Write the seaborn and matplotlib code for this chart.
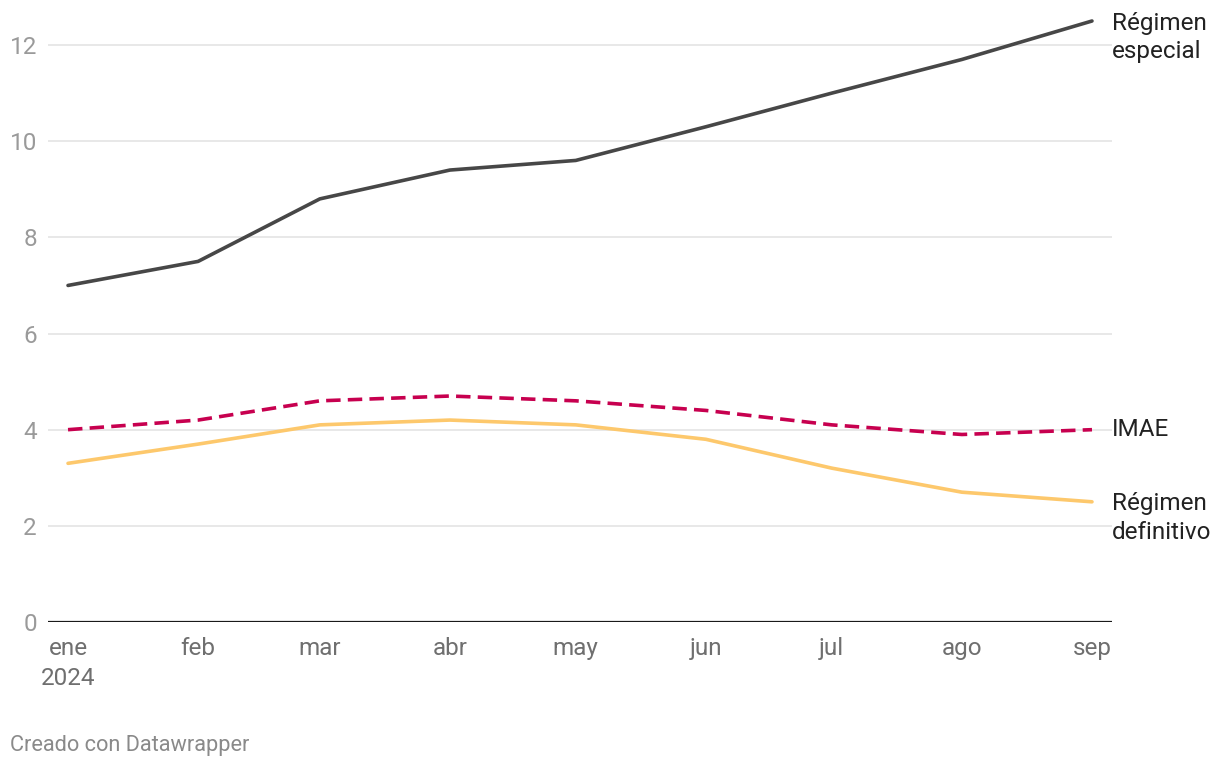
import matplotlib
matplotlib.use("Agg")
import matplotlib.pyplot as plt
import numpy as np
import pandas as pd
import seaborn as sns

# data
months = pd.date_range("2024-01-01", "2024-09-01", freq="MS")
month_labels = ["ene\n2024", "feb", "mar", "abr", "may", "jun", "jul", "ago", "sep"]
especial = [7.0, 7.5, 8.8, 9.4, 9.6, 10.3, 11.0, 11.7, 12.5]
imae = [4.0, 4.2, 4.6, 4.7, 4.6, 4.4, 4.1, 3.9, 4.0]
definitivo = [3.3, 3.7, 4.1, 4.2, 4.1, 3.8, 3.2, 2.7, 2.5]
y_ticks = [0, 2, 4, 6, 8, 10, 12]

sns.set_style("white")
plt.rcParams["font.family"] = ["Roboto", "DejaVu Sans"]

fig = plt.figure(figsize=(12.2, 7.68), dpi=100)
ax = fig.add_axes([48 / 1220, 146 / 768, (1112 - 48) / 1220, (622 - 21) / 768])

df = pd.DataFrame({"fecha": months, "especial": especial, "imae": imae, "definitivo": definitivo})

# gridlines first so lines sit on top
for t in y_ticks[1:]:
    ax.axhline(t, color="#e2e2e2", lw=1.1, zorder=0)
ax.axhline(0, color="#1a1a1a", lw=1.6, zorder=1)

sns.lineplot(data=df, x="fecha", y="definitivo", color="#fdc86c", lw=2.6, ax=ax, clip_on=False)
sns.lineplot(data=df, x="fecha", y="imae", color="#c7004f", lw=2.6, ax=ax, clip_on=False)
ax.lines[-1].set_dashes([4.0, 2.0])
sns.lineplot(data=df, x="fecha", y="especial", color="#474747", lw=2.6, ax=ax, clip_on=False)

pad = pd.Timedelta(days=4.77)
ax.set_xlim(months[0] - pad, months[-1] + pad)
ax.set_ylim(0, 12.5)

ax.set_yticks(y_ticks)
ax.set_yticklabels([str(t) for t in y_ticks], color="#9a9a9a", fontsize=17.5)
ax.set_xticks(months)
ax.set_xticklabels(month_labels, color="#6f6f6f", fontsize=17.5, linespacing=1.4)
ax.tick_params(axis="both", length=0)
ax.tick_params(axis="y", pad=8)
ax.tick_params(axis="x", pad=11)
ax.set_xlabel("")
ax.set_ylabel("")
sns.despine(ax=ax, left=True, bottom=True)

# end labels
ends = [("Régimen", "especial", especial[-1]), ("IMAE", None, imae[-1]), ("Régimen", "definitivo", definitivo[-1])]
for first, second, val in ends:
    dy = -1.5 if second else 0
    ax.annotate(first, xy=(months[-1], val), xytext=(14.4, dy), textcoords="offset points",
                ha="left", va="center", fontsize=17.5, color="#222222", annotation_clip=False)
    if second:
        ax.annotate(second, xy=(months[-1], val), xytext=(14.4, dy - 20.5), textcoords="offset points",
                    ha="left", va="center", fontsize=17.5, color="#222222", annotation_clip=False)

fig.text(10 / 1220, 1 - 745 / 768, "Creado con Datawrapper", ha="left", va="center",
         fontsize=15.7, color="#8a8a8a")

fig.savefig("out.png", dpi=100)
